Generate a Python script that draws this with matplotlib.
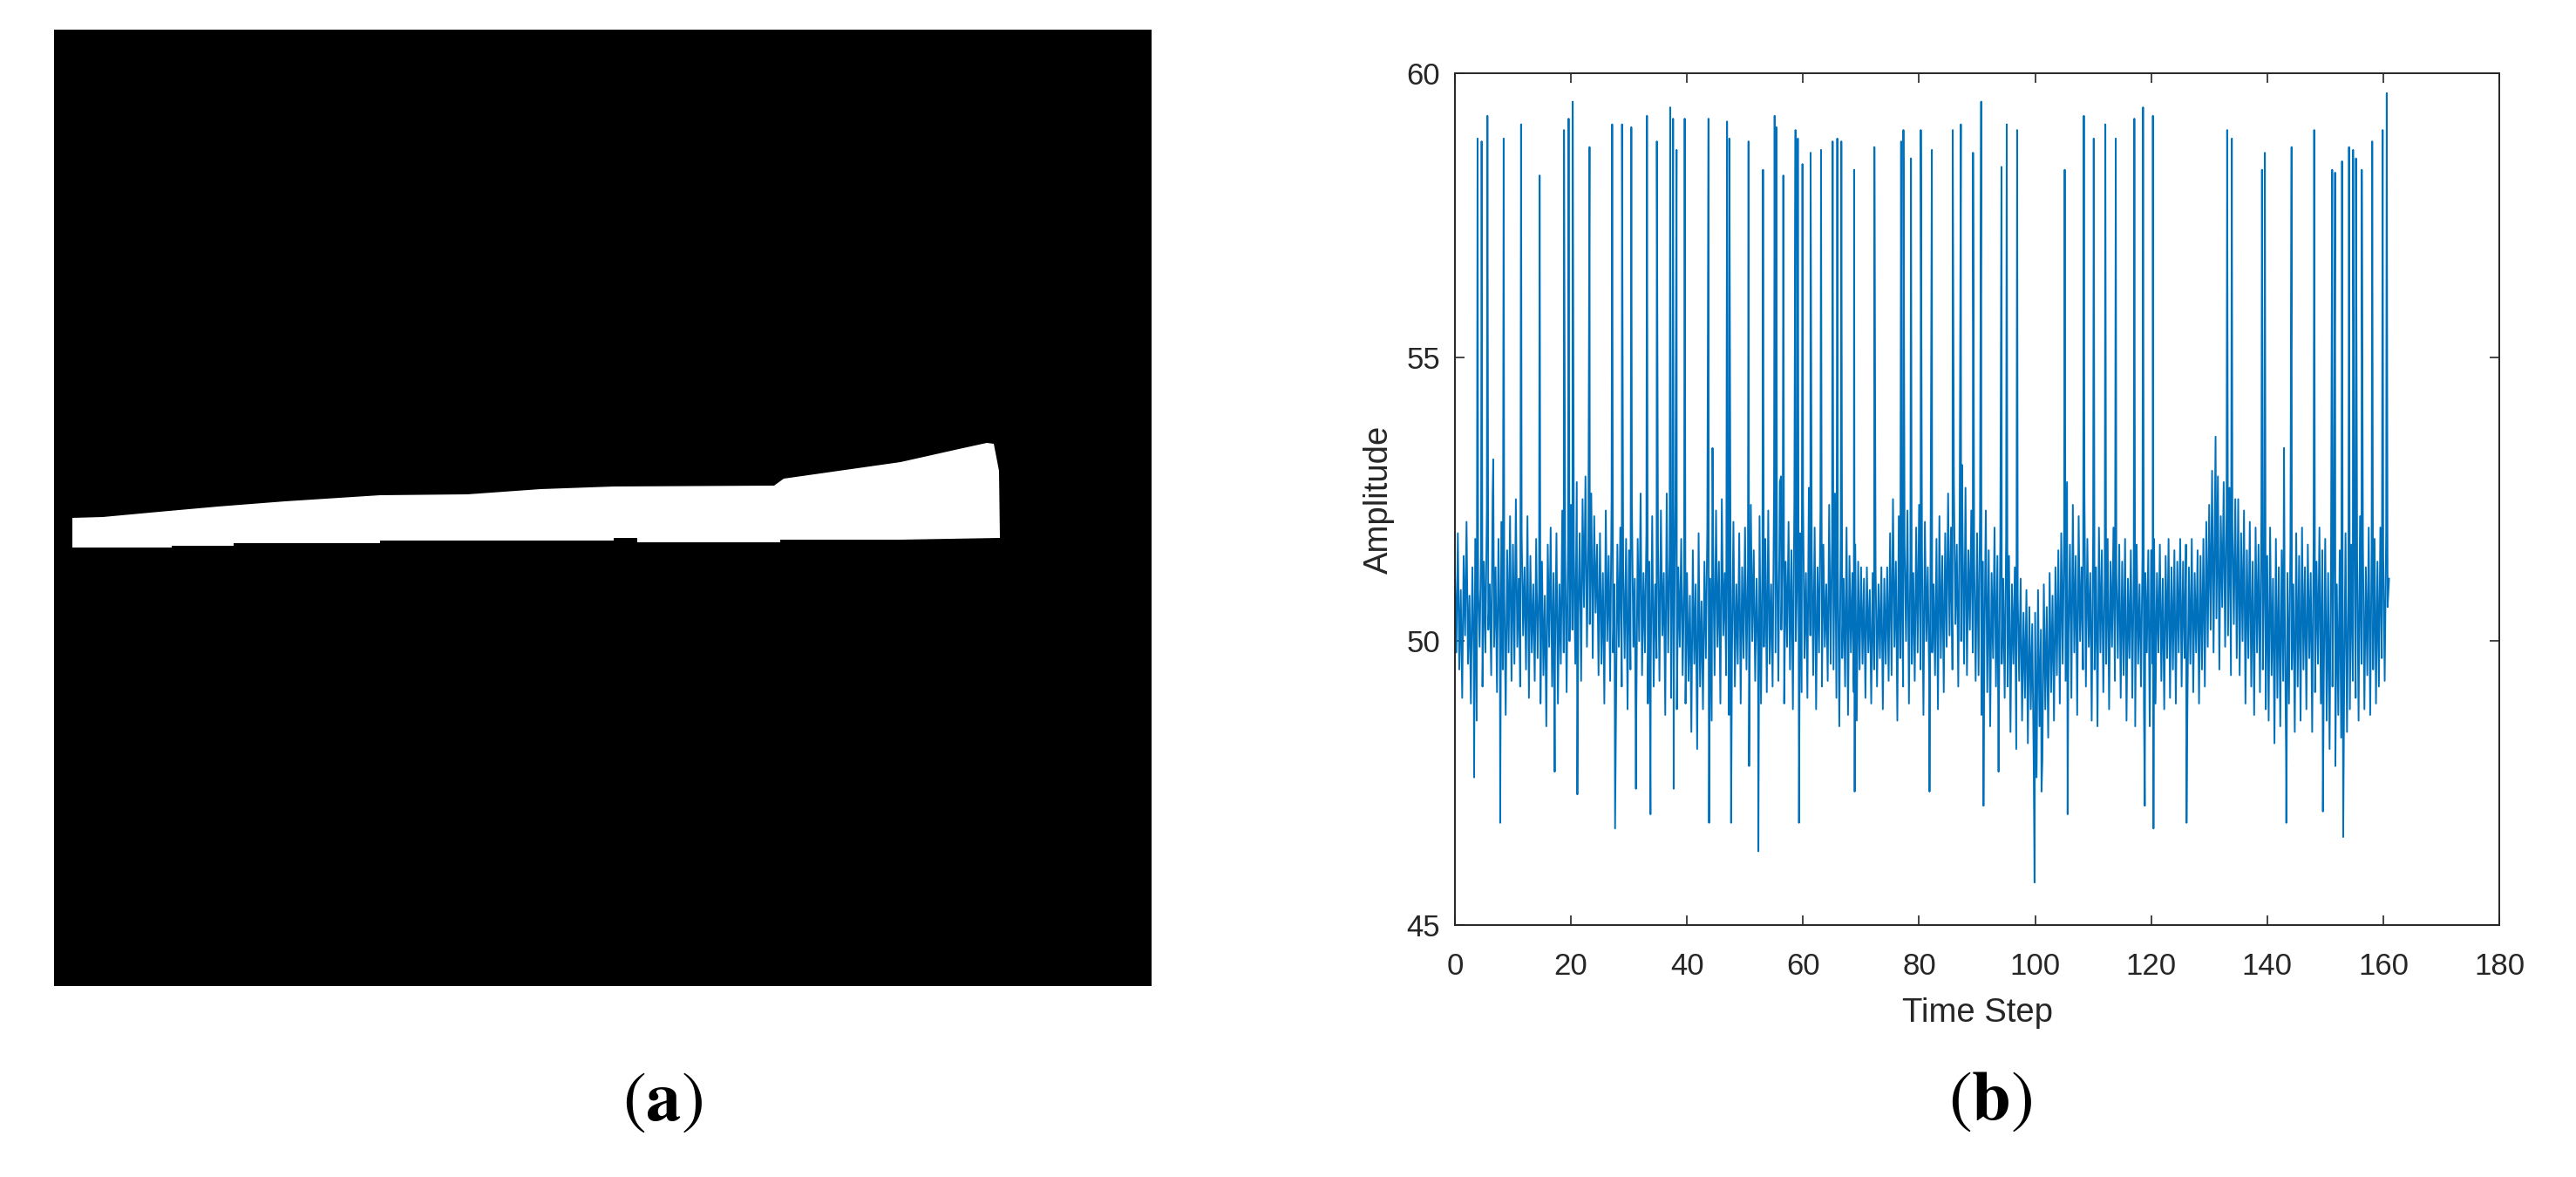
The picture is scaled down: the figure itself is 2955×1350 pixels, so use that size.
import numpy as np
import matplotlib
matplotlib.use('Agg')
import matplotlib.pyplot as plt

# (a) binary image: white region outline (pixel coords of the frame)
wedge_x = [83, 118, 183, 250, 327, 436, 536, 620, 704, 888, 899, 1033, 1100, 1132, 1140, 1146, 1147,
           1147, 1033, 895, 895, 731, 731, 704, 704, 436, 436, 268, 268, 197, 197, 83]
wedge_y = [594, 593, 587, 581, 575, 568, 567, 561, 558, 557, 549, 530, 515, 508, 509, 540, 616,
           617, 619, 619, 622, 622, 617, 617, 620, 620, 623, 623, 626, 626, 628, 628]
frame_x = [62, 1321]
frame_y = [34, 1131]

# (b) amplitude signal, base samples every 0.25 time step
step = 0.25
amp_base = [
    51.2, 49.8, 51.9, 49.5, 50.9, 49.0, 51.5, 50.1, 52.1, 49.6, 50.8, 48.9, 51.3, 49.7, 51.8, 48.6, 50.9, 49.9, 51.6, 49.2,
    51.4, 49.8, 52.3, 50.2, 51.0, 49.4, 52.6, 49.9, 51.3, 49.1, 51.8, 50.0, 52.1, 49.5, 50.9, 48.7, 51.6, 49.8, 52.2, 49.3,
    51.7, 49.6, 52.5, 49.9, 51.1, 49.2, 51.9, 50.1, 51.3, 49.5, 52.2, 49.0, 51.5, 49.8, 51.0, 49.3, 51.8, 49.7, 50.9, 48.9,
    51.4, 49.4, 50.8, 48.5, 51.7, 49.9, 52.0, 49.2, 51.2, 49.7, 51.9, 48.9, 51.0, 49.6, 52.3, 49.8, 51.5, 49.1, 51.8, 50.0,
    52.4, 50.2, 51.6, 49.6, 52.8, 50.4, 51.9, 49.3, 52.5, 50.6, 52.9, 49.9, 51.8, 50.3, 52.6, 49.7, 52.2, 50.5, 51.7, 49.4,
    51.9, 49.6, 51.2, 48.9, 52.3, 50.0, 51.5, 49.3, 52.5, 49.8, 51.0, 48.5, 51.7, 49.9, 52.0, 49.2, 51.3, 49.7, 51.8, 48.8,
    51.6, 49.5, 52.4, 49.9, 51.1, 48.6, 51.8, 50.0, 52.6, 49.4, 51.2, 49.8, 51.9, 48.9, 51.4, 49.6, 52.2, 49.2, 51.0, 49.7,
    51.7, 49.3, 52.3, 50.1, 51.2, 48.7, 52.6, 49.8, 51.5, 49.0, 51.9, 49.6, 52.4, 48.8, 51.3, 49.9, 51.8, 49.4, 51.1, 48.9,
    51.2, 49.3, 50.8, 48.4, 51.6, 49.6, 51.0, 48.1, 51.9, 49.2, 50.7, 48.8, 51.4, 49.7, 52.0, 49.0, 51.1, 48.6, 51.7, 49.4,
    52.3, 49.9, 51.4, 48.9, 52.5, 50.1, 51.2, 49.4, 51.8, 48.7, 51.5, 49.8, 52.1, 49.2, 51.0, 49.6, 51.9, 48.9, 51.3, 49.7,
    52.0, 49.5, 51.3, 48.8, 52.4, 50.0, 51.6, 49.3, 51.1, 49.7, 52.2, 48.9, 51.5, 49.9, 51.8, 49.1, 52.3, 49.6, 51.0, 49.2,
    52.7, 49.8, 51.5, 49.3, 52.8, 50.2, 51.9, 48.9, 51.4, 49.9, 52.1, 49.5, 51.6, 48.8, 52.5, 50.0, 51.2, 49.6, 51.9, 49.1,
    52.5, 49.7, 51.2, 49.0, 52.7, 50.1, 51.6, 49.4, 52.0, 48.8, 51.3, 49.8, 52.3, 49.2, 51.7, 49.9, 51.0, 49.3, 52.4, 49.6,
    51.8, 49.5, 52.6, 49.0, 51.3, 48.5, 51.9, 49.7, 51.1, 49.2, 52.0, 48.7, 51.5, 49.8, 51.2, 49.1, 51.7, 48.6, 51.4, 49.5,
    51.3, 49.6, 51.1, 49.0, 51.3, 49.8, 50.9, 48.9, 51.2, 49.5, 51.3, 49.2, 51.0, 49.7, 51.3, 48.8, 51.1, 49.6, 51.3, 49.3,
    51.9, 49.4, 52.5, 49.9, 51.4, 48.6, 52.2, 49.7, 51.0, 49.2, 51.7, 50.0, 52.3, 48.9, 51.5, 49.6, 51.2, 49.3, 52.0, 49.8,
    52.4, 49.5, 51.6, 48.7, 52.1, 50.0, 51.3, 49.2, 52.3, 49.8, 51.0, 49.4, 51.8, 48.8, 52.2, 49.7, 51.5, 49.1, 51.9, 49.9,
    52.6, 50.1, 52.0, 49.5, 52.8, 50.3, 51.7, 49.2, 52.4, 50.0, 51.9, 49.6, 52.7, 49.4, 51.6, 50.2, 52.3, 49.8, 51.4, 49.3,
    51.9, 49.4, 52.2, 48.7, 51.4, 49.9, 52.3, 49.1, 51.6, 48.5, 51.2, 49.7, 52.0, 49.2, 51.5, 48.8, 51.8, 49.6, 51.1, 49.0,
    51.8, 49.2, 51.5, 48.4, 51.0, 49.6, 51.3, 48.1, 50.8, 49.3, 51.1, 48.6, 50.5, 49.0, 50.9, 48.2, 50.6, 48.8, 50.3, 47.9,
    50.5, 47.6, 50.9, 48.5, 50.2, 47.9, 51.0, 48.8, 50.6, 48.3, 51.2, 49.1, 50.8, 48.6, 51.3, 49.4, 51.6, 48.9, 51.9, 49.6,
    52.0, 49.3, 52.8, 50.1, 51.7, 49.0, 52.4, 49.8, 51.5, 48.7, 52.2, 50.0, 51.3, 49.5, 52.6, 49.2, 51.8, 49.9, 51.2, 48.6,
    51.9, 49.5, 51.3, 48.5, 52.0, 49.8, 51.6, 49.1, 51.1, 49.6, 51.8, 48.8, 51.4, 49.9, 52.0, 49.3, 51.2, 49.7, 51.7, 49.0,
    51.4, 49.4, 51.8, 48.6, 51.1, 49.7, 51.6, 49.0, 51.3, 48.5, 51.7, 49.6, 51.0, 49.2, 51.5, 48.9, 51.2, 49.8, 51.6, 48.5,
    51.6, 49.6, 51.8, 48.9, 51.2, 49.8, 51.7, 49.3, 51.1, 48.8, 51.5, 49.7, 51.8, 49.0, 51.3, 49.5, 51.6, 48.9, 51.4, 49.8,
    51.8, 49.2, 51.4, 49.7, 51.7, 48.9, 51.3, 49.6, 51.8, 49.1, 51.2, 49.8, 51.6, 48.9, 51.5, 49.5, 51.8, 49.2, 52.1, 49.9,
    52.4, 50.2, 53.0, 49.8, 52.6, 50.4, 52.9, 49.5, 52.2, 50.6, 52.8, 49.9, 52.3, 50.1, 52.7, 49.4, 52.0, 50.3, 52.5, 49.7,
    52.5, 49.4, 51.9, 50.0, 52.3, 48.9, 51.6, 49.7, 52.1, 49.2, 51.4, 48.7, 52.0, 49.8, 51.7, 49.1, 52.2, 49.5, 51.3, 48.8,
    51.5, 48.6, 52.0, 49.4, 51.1, 48.2, 51.8, 49.0, 51.3, 48.5, 51.6, 49.3, 50.9, 48.0, 51.2, 48.9, 51.7, 49.5, 51.0, 48.4,
    51.9, 49.2, 51.5, 48.6, 52.0, 49.5, 51.3, 48.8, 51.7, 49.7, 51.2, 48.4, 51.8, 49.1, 51.4, 49.6, 52.0, 48.9, 51.6, 49.3,
    51.8, 48.6, 51.2, 48.1, 51.5, 49.2, 52.0, 47.8, 51.0, 48.7, 51.6, 48.3, 51.3, 49.0, 51.9, 48.4, 50.9, 48.8, 51.7, 49.3,
    52.1, 49.0, 51.5, 48.6, 52.2, 49.6, 51.7, 48.8, 51.3, 49.4, 52.0, 48.7, 51.6, 49.5, 51.8, 48.9, 51.4, 49.2, 52.0, 49.7,
    51.5, 49.3, 51.9, 50.6, 51.1,
]

# single-sample spikes (time, amplitude)
spike_t = [3.9, 4.6, 5.6, 8.4, 11.4, 14.6, 18.8, 19.6, 20.3, 23.2, 27.1, 28.8, 30.4, 33.1, 34.8,
           37.1, 37.6, 38.2, 39.6, 43.7, 46.9, 47.3, 50.6, 53.1, 55.1, 55.4, 56.6, 58.7, 59.1, 59.9,
           61.3, 63.1, 65.1, 65.9, 66.6, 68.8, 72.3, 76.9, 77.3, 78.6, 80.3, 82.2, 85.8, 87.2, 89.3,
           90.7, 94.2, 95.1, 96.9, 105.1, 108.4, 110.1, 112.1, 113.9, 117.1, 118.6, 120.3, 133.1,
           133.9, 139.1, 139.6, 144.2, 148.1, 151.2, 151.7, 152.9, 154.1, 154.8, 155.3, 156.3,
           158.1, 159.9, 160.6]
spike_v = [58.85, 58.8, 59.25, 58.85, 59.1, 58.2, 59.0, 59.2, 59.5, 58.7, 59.1, 59.1, 59.05, 59.25, 58.8,
           59.4, 59.2, 58.65, 59.2, 59.2, 59.15, 58.85, 58.8, 58.3, 59.25, 59.05, 58.2, 59.0, 58.85, 58.4,
           58.6, 58.65, 58.8, 58.85, 58.8, 58.3, 58.7, 58.8, 59.0, 58.5, 59.0, 58.65, 59.0, 59.1, 58.6,
           59.5, 58.35, 59.1, 59.0, 58.3, 59.25, 58.85, 59.1, 58.85, 59.2, 59.4, 59.25, 59.0,
           58.85, 58.3, 58.6, 58.7, 59.0, 58.3, 58.25, 58.45, 58.7, 58.65, 58.5, 58.3,
           58.8, 59.0, 59.65]

# smaller peaks and downward dips
mid_t = [6.6, 44.4, 56.2, 87.4, 131.1, 142.9]
mid_v = [53.2, 53.4, 52.9, 53.1, 53.6, 53.4]
dip_t = [3.3, 7.8, 17.2, 21.1, 27.6, 31.2, 33.7, 37.7, 43.8, 47.6, 50.7, 52.3, 59.3, 68.9, 81.8,
         91.1, 93.7, 99.9, 101.1, 105.6, 118.9, 120.4, 126.1, 143.3, 149.6, 153.1]
dip_v = [47.6, 46.8, 47.7, 47.3, 46.7, 47.4, 46.95, 47.4, 46.8, 46.8, 47.8, 46.3, 46.8, 47.35, 47.35,
         47.1, 47.7, 45.75, 47.35, 46.95, 47.1, 46.7, 46.8, 46.8, 47.0, 46.55]

x_ticks = [0, 20, 40, 60, 80, 100, 120, 140, 160, 180]
y_ticks = [45, 50, 55, 60]

base_t = np.arange(len(amp_base)) * step
t_all = np.concatenate([base_t, spike_t, mid_t, dip_t])
v_all = np.concatenate([amp_base, spike_v, mid_v, dip_v])
order = np.argsort(t_all, kind='stable')
t_all = t_all[order]
v_all = v_all[order]

plt.rcParams['font.family'] = ['Liberation Sans', 'DejaVu Sans']
plt.rcParams['mathtext.fontset'] = 'stix'
txt_col = '#262626'

fig = plt.figure(figsize=(29.55, 13.5), dpi=100)
W, H = 2955.0, 1350.0

# panel (a)
axa = fig.add_axes([frame_x[0] / W, 1 - frame_y[1] / H,
                    (frame_x[1] - frame_x[0]) / W, (frame_y[1] - frame_y[0]) / H])
axa.set_facecolor('black')
axa.fill(wedge_x, wedge_y, color='white', lw=0)
axa.set_xlim(frame_x[0], frame_x[1])
axa.set_ylim(frame_y[1], frame_y[0])
axa.set_xticks([])
axa.set_yticks([])
for s in axa.spines.values():
    s.set_visible(False)

# panel (b)
axb = fig.add_axes([1669 / W, 1 - 1061 / H, (2867 - 1669) / W, (1061 - 84) / H])
axb.plot(t_all, v_all, color='#0072BD', lw=1.4)
axb.set_xlim(0, 180)
axb.set_ylim(45, 60)
axb.set_xticks(x_ticks)
axb.set_yticks(y_ticks)
axb.tick_params(direction='in', length=8, width=1.2, colors=txt_col, labelsize=25,
                top=True, right=True)
axb.tick_params(axis='x', pad=22)
axb.tick_params(axis='y', pad=12)
for s in axb.spines.values():
    s.set_linewidth(1.4)
    s.set_color(txt_col)
axb.set_xlabel('Time Step', fontsize=27.5, color=txt_col, labelpad=14)
axb.set_ylabel('Amplitude', fontsize=27.5, color=txt_col, labelpad=10)

fig.text(760 / W, 1 - 1264 / H, r'$(\mathbf{a})$', fontsize=58, ha='center', va='center')
fig.text(2283 / W, 1 - 1263 / H, r'$(\mathbf{b})$', fontsize=58, ha='center', va='center')

fig.savefig('out.png', dpi=100, facecolor='white')
